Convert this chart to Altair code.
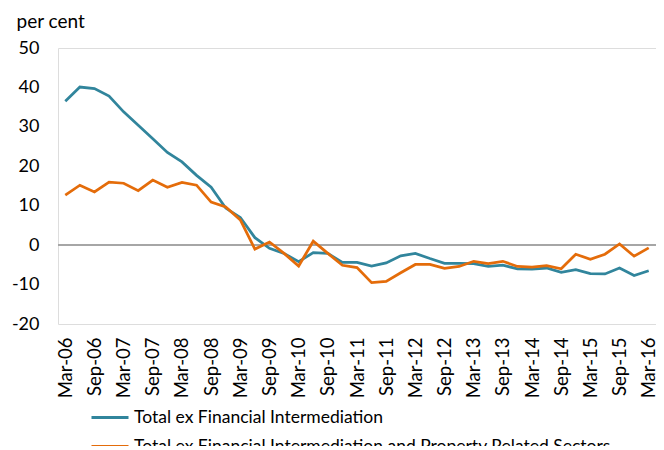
import altair as alt
import pandas as pd

quarters = [
    "Mar-06", "Jun-06", "Sep-06", "Dec-06",
    "Mar-07", "Jun-07", "Sep-07", "Dec-07",
    "Mar-08", "Jun-08", "Sep-08", "Dec-08",
    "Mar-09", "Jun-09", "Sep-09", "Dec-09",
    "Mar-10", "Jun-10", "Sep-10", "Dec-10",
    "Mar-11", "Jun-11", "Sep-11", "Dec-11",
    "Mar-12", "Jun-12", "Sep-12", "Dec-12",
    "Mar-13", "Jun-13", "Sep-13", "Dec-13",
    "Mar-14", "Jun-14", "Sep-14", "Dec-14",
    "Mar-15", "Jun-15", "Sep-15", "Dec-15",
    "Mar-16",
]
tick_labels = [q for q in quarters if q.startswith("Mar") or q.startswith("Sep")]

series_names = [
    "Total ex Financial Intermediation",
    "Total ex Financial Intermediation and Property Related Sectors",
]
series_colors = ["#31859C", "#E46C0A"]

total_ex_fi = [36.5, 40.1, 39.7, 37.8, 33.8, 30.4, 27.0, 23.5, 21.1, 17.7,
               14.7, 9.4, 7.0, 1.9, -0.8, -2.1, -4.2, -1.9, -2.1, -4.4,
               -4.4, -5.3, -4.5, -2.7, -2.1, -3.4, -4.6, -4.6, -4.7, -5.4,
               -5.1, -6.0, -6.1, -5.8, -6.9, -6.2, -7.2, -7.3, -5.8, -7.7,
               -6.5]
total_ex_fi_prop = [12.7, 15.2, 13.5, 16.0, 15.7, 13.8, 16.5, 14.7, 15.9, 15.2,
                    10.9, 9.7, 6.4, -1.0, 0.8, -2.1, -5.3, 1.0, -2.1, -5.1,
                    -5.7, -9.5, -9.2, -7.0, -4.9, -4.9, -5.9, -5.4, -4.1, -4.7,
                    -4.1, -5.4, -5.6, -5.2, -6.0, -2.3, -3.6, -2.3, 0.3, -2.8,
                    -0.7]

y_ticks = [-20, -10, 0, 10, 20, 30, 40, 50]

rows = []
for name, vals in zip(series_names, [total_ex_fi, total_ex_fi_prop]):
    for q, v in zip(quarters, vals):
        rows.append({"quarter": q, "value": v, "series": name})
df = pd.DataFrame(rows)

FONT = "Lato"

x_enc = alt.X(
    "quarter:O",
    sort=quarters,
    scale=alt.Scale(type="point", padding=0.5),
    axis=alt.Axis(
        values=tick_labels, labelAngle=-90, labelFontSize=18.5, labelColor="#000000",
        labelPadding=13, domain=False, ticks=False, grid=False, title=None,
        labelFont=FONT, labelOverlap=False,
    ),
)
y_scale = alt.Scale(domain=[-20, 50], nice=False)
y_axis = alt.Axis(
    values=y_ticks, labelFontSize=18, labelColor="#000000", labelPadding=19,
    labelExpr="datum.value + ''", labelOverlap=False,
    domain=False, ticks=False, grid=False, labelFont=FONT,
    title="per cent", titleAngle=0, titleAlign="left", titleBaseline="alphabetic",
    titleX=-42, titleY=-21, titleFontSize=19, titleFontWeight="normal",
    titleColor="#000000", titleFont=FONT,
)

lines = alt.Chart(df).mark_line(strokeWidth=2.75).encode(
    x=x_enc,
    y=alt.Y("value:Q", scale=y_scale, axis=y_axis),
    color=alt.Color(
        "series:N",
        scale=alt.Scale(domain=series_names, range=series_colors),
        legend=alt.Legend(
            title=None, orient="none", legendX=32, legendY=349.5, direction="vertical",
            symbolType="stroke", symbolSize=1369, symbolStrokeWidth=3,
            labelFontSize=17.5, labelFont=FONT, labelColor="#000000", labelOffset=4,
            rowPadding=-12, labelLimit=800,
        ),
    ),
)

zero = alt.Chart(df).mark_rule(color="#A6A6A6", strokeWidth=1.2).encode(
    y=alt.Y(datum=0, scale=y_scale, axis=y_axis)
)

chart = (
    alt.layer(zero, lines)
    .properties(
        width=598, height=276,
        autosize=alt.AutoSizeParams(type="none"),
        padding={"left": 50, "top": 40, "right": 0, "bottom": 122},
    )
    .configure_view(stroke="#BFBFBF", strokeWidth=1)
    .configure(background="#FFFFFF")
)

chart.save("out.html", embed_options={"renderer": "svg", "actions": False})
